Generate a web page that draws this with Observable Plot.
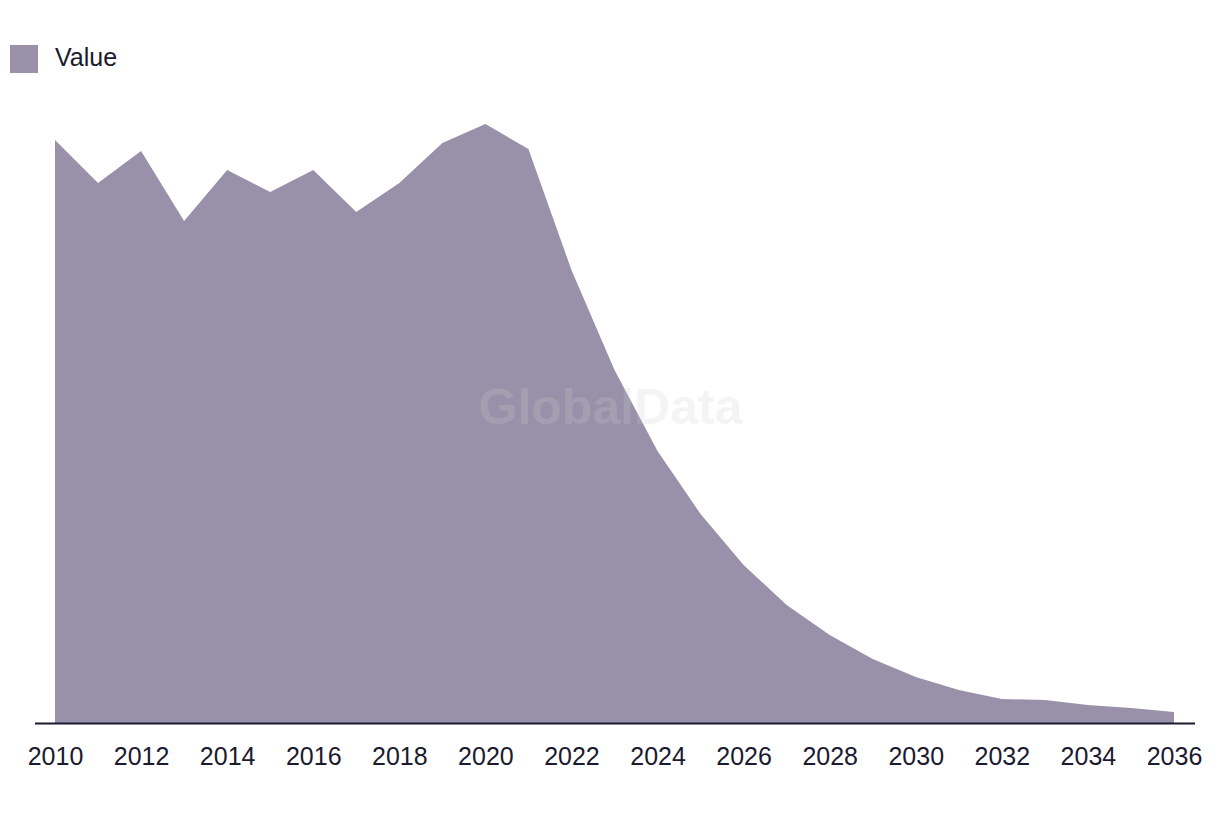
<!DOCTYPE html>
<html>
<head>
<meta charset="utf-8">
<script src="https://cdn.jsdelivr.net/npm/d3@7"></script>
<script src="https://cdn.jsdelivr.net/npm/@observablehq/plot@0.6"></script>
<style>
  html, body { margin: 0; padding: 0; background: #fff; }
  body { width: 1220px; height: 814px; overflow: hidden; font-family: "Liberation Sans", Arial, sans-serif; }
  #legend { position: relative; height: 100px; }
  #legend .sw { position: absolute; left: 10px; top: 45px; width: 28px; height: 28px; background: #9991a9; }
  #legend .lb { position: absolute; left: 55px; top: 45px; font-size: 25px; line-height: 25px; color: #1b1a2e; }
  #chart svg { display: block; }
</style>
</head>
<body>
<div id="legend"><div class="sw"></div><div class="lb">Value</div></div>
<div id="chart"></div>
<script>
const years = [2010, 2011, 2012, 2013, 2014, 2015, 2016, 2017, 2018, 2019, 2020, 2021, 2022, 2023,
               2024, 2025, 2026, 2027, 2028, 2029, 2030, 2031, 2032, 2033, 2034, 2035, 2036];
const values = [583, 540, 572, 502, 553, 531, 553, 511, 540, 580, 599, 574, 453, 353,
                272, 209, 158, 118, 88, 64, 46, 33, 24, 23, 18, 15, 11];
const tickYears = [2010, 2012, 2014, 2016, 2018, 2020, 2022, 2024, 2026, 2028, 2030, 2032, 2034, 2036];
const seriesName = "Value";
const watermark = "GlobalData";

const data = years.map((y, i) => ({year: y, value: values[i], series: seriesName}));

const chart = Plot.plot({
  width: 1220,
  height: 714,
  marginLeft: 35,
  marginRight: 25,
  marginTop: 23,
  marginBottom: 91,
  style: {fontFamily: "'Liberation Sans', Arial, sans-serif", background: "#fff"},
  x: {domain: [2010, 2036], insetLeft: 20, insetRight: 21, label: null},
  y: {domain: [0, 600], axis: null},
  marks: [
    Plot.areaY(data, {x: "year", y: "value", fill: "#9991a9", curve: "linear"}),
    Plot.ruleY([0], {stroke: "#1b1a2e", strokeWidth: 2}),
    Plot.axisX({
      ticks: tickYears,
      tickFormat: d => String(d),
      tickSize: 0,
      tickPadding: 24,
      fontSize: 25,
      fill: "#1b1a2e",
      label: null
    }),
    Plot.text([watermark], {
      frameAnchor: "middle",
      text: d => d,
      dx: -5,
      dy: -16,
      fontSize: 50,
      fontWeight: "bold",
      fill: "#cecece",
      fillOpacity: 0.22
    })
  ]
});
document.getElementById("chart").appendChild(chart);
</script>
</body>
</html>
